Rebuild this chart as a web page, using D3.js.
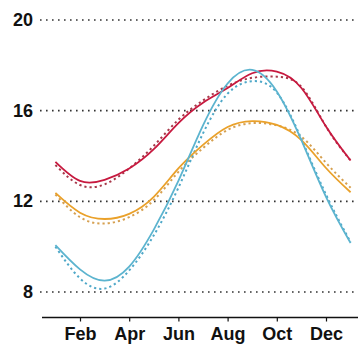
<!DOCTYPE html>
<html>
<head>
<meta charset="utf-8">
<script src="https://cdn.jsdelivr.net/npm/d3@7"></script>
<style>
  html, body { margin: 0; padding: 0; background: #fff; }
  svg { display: block; }
  text { font-family: "Liberation Sans", Arial, Helvetica, sans-serif; font-weight: bold; }
</style>
</head>
<body>
<svg id="chart" width="358" height="347"></svg>
<script>
// months from Jan 1 (0) to Dec 31 (12)
const t = [0, 1, 2, 3, 4, 5, 6, 7, 8, 9, 10, 11, 12];
const redSolid    = [13.74, 12.9, 12.95, 13.45, 14.3, 15.45, 16.35, 17.0, 17.65, 17.72, 17.0, 15.3, 13.8];
const redDotted   = [13.6, 12.72, 12.75, 13.45, 14.45, 15.6, 16.45, 17.1, 17.45, 17.5, 17.05, 15.3, 13.8];
const orangeSolid = [12.37, 11.5, 11.22, 11.45, 12.2, 13.45, 14.49, 15.28, 15.54, 15.37, 14.7, 13.47, 12.4];
const orangeDotted= [12.3, 11.3, 11.02, 11.3, 12.05, 13.3, 14.35, 15.15, 15.45, 15.35, 14.85, 13.7, 12.6];
const blueSolid   = [10.07, 9.0, 8.5, 9.12, 10.75, 12.9, 15.35, 17.2, 17.8, 16.85, 14.7, 12.2, 10.16];
const blueDotted  = [10.0, 8.6, 8.15, 8.95, 10.5, 12.6, 15.0, 16.75, 17.3, 16.8, 14.75, 12.3, 10.2];
const yTicks = [8, 12, 16, 20];
const xTickVals = [1, 3, 5, 7, 9, 11];
const xTickLabels = ["Feb", "Apr", "Jun", "Aug", "Oct", "Dec"];

const svg = d3.select("#chart");
const x = d3.scaleLinear().domain([0, 12]).range([55.4, 350.6]);
const y = d3.scaleLinear().domain([8, 20]).range([292, 20]);

// gridlines
svg.append("g").selectAll("line").data(yTicks).join("line")
  .attr("x1", 40).attr("x2", 358)
  .attr("y1", d => y(d)).attr("y2", d => y(d))
  .attr("stroke", "#333").attr("stroke-width", 1.6)
  .attr("stroke-dasharray", "1.6,4.4").attr("stroke-linecap", "butt");

// y labels
svg.append("g").selectAll("text").data(yTicks).join("text")
  .attr("x", 33).attr("y", d => y(d))
  .attr("text-anchor", "end").attr("dominant-baseline", "central")
  .attr("font-size", 18).attr("fill", "#111")
  .text(d => d);

// x axis
const xAxis = d3.axisBottom(x)
  .tickValues(xTickVals)
  .tickFormat((d, i) => xTickLabels[i])
  .tickSizeInner(4).tickSizeOuter(0).tickPadding(6);
const gx = svg.append("g").attr("transform", "translate(0,317.5)").call(xAxis);
gx.select(".domain").attr("d", "M42,0H358").attr("stroke", "#111").attr("stroke-width", 1.6);
gx.selectAll(".tick line").attr("stroke", "#111").attr("stroke-width", 1.2);
gx.selectAll(".tick text").attr("font-size", 18).attr("fill", "#111")
  .attr("font-family", "Liberation Sans, Arial, sans-serif").attr("font-weight", "bold");

const line = d3.line().x((d, i) => x(t[i])).y(d => y(d)).curve(d3.curveNatural);

const series = [
  { v: orangeDotted, c: "#d6a050", dash: "2.2,3" },
  { v: redDotted,    c: "#a8384a", dash: "2.2,3" },
  { v: blueDotted,   c: "#4fa8c8", dash: "2.2,3" },
  { v: orangeSolid,  c: "#eaa12a", dash: null },
  { v: redSolid,     c: "#c7193f", dash: null },
  { v: blueSolid,    c: "#5cb4cf", dash: null }
];
svg.append("g").selectAll("path").data(series).join("path")
  .attr("d", d => line(d.v))
  .attr("fill", "none")
  .attr("stroke", d => d.c)
  .attr("stroke-width", d => d.dash ? 2 : 1.8)
  .attr("stroke-dasharray", d => d.dash);
</script>
</body>
</html>
